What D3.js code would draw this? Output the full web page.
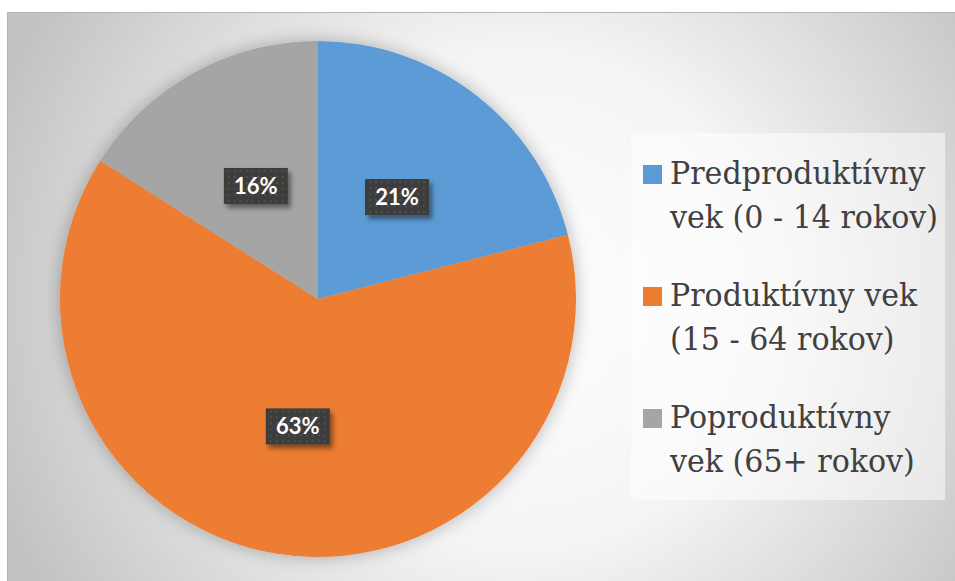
<!DOCTYPE html>
<html>
<head>
<meta charset="utf-8">
<script src="https://cdn.jsdelivr.net/npm/d3@7"></script>
<style>
  html, body { margin: 0; padding: 0; background: #ffffff; }
  svg { display: block; }
  .legend-text { font-family: "DejaVu Serif", serif; font-stretch: condensed; }
  .data-label { font-family: "Lato", "Open Sans", sans-serif; font-weight: 700; }
</style>
</head>
<body>
<svg id="chart" width="955" height="581"></svg>
<script>
// Age structure of the population
const categories = ["Predproduktívny vek (0 - 14 rokov)", "Produktívny vek (15 - 64 rokov)", "Poproduktívny vek (65+ rokov)"];
const legendLines = [["Predproduktívny", "vek (0 - 14 rokov)"], ["Produktívny vek", "(15 - 64 rokov)"], ["Poproduktívny", "vek (65+ rokov)"]];
const values = [21, 63, 16];
const colors = ["#5b9bd5", "#ed7d31", "#a5a5a5"];

const svg = d3.select("#chart");
const W = 955, H = 581;
const defs = svg.append("defs");

// chart area background: soft radial gradient
const bg = defs.append("radialGradient").attr("id", "bgGrad")
  .attr("gradientUnits", "userSpaceOnUse")
  .attr("cx", 520).attr("cy", 300).attr("r", 560);
bg.append("stop").attr("offset", "0%").attr("stop-color", "#ffffff");
bg.append("stop").attr("offset", "45%").attr("stop-color", "#f4f4f4");
bg.append("stop").attr("offset", "100%").attr("stop-color", "#c2c2c2");

// pie shadow
const ps = defs.append("filter").attr("id", "pieShadow")
  .attr("x", "-20%").attr("y", "-20%").attr("width", "140%").attr("height", "140%");
ps.append("feDropShadow").attr("dx", 0).attr("dy", 0).attr("stdDeviation", 9)
  .attr("flood-color", "#000").attr("flood-opacity", 0.28);

// data label shadow
const ls = defs.append("filter").attr("id", "lblShadow")
  .attr("x", "-30%").attr("y", "-30%").attr("width", "170%").attr("height", "190%");
ls.append("feDropShadow").attr("dx", 3).attr("dy", 4).attr("stdDeviation", 2.5)
  .attr("flood-color", "#000").attr("flood-opacity", 0.45);

// dotted dark fill for data labels
const pat = defs.append("pattern").attr("id", "dots")
  .attr("patternUnits", "userSpaceOnUse").attr("width", 6).attr("height", 6);
pat.append("rect").attr("width", 6).attr("height", 6).attr("fill", "#3d3d3d");
pat.append("rect").attr("x", 2).attr("y", 2).attr("width", 2).attr("height", 2).attr("fill", "#4f4f4f");

// chart area
svg.append("rect").attr("x", 7.5).attr("y", 12.5).attr("width", W).attr("height", H)
  .attr("fill", "url(#bgGrad)").attr("stroke", "#b5b5b5").attr("stroke-width", 1);

// pie
const cx = 318, cy = 299, R = 258;
const pie = d3.pie().sort(null).value(d => d)(values);
const arc = d3.arc().innerRadius(0).outerRadius(R);
const labelArc = d3.arc().innerRadius(R / 2).outerRadius(R / 2);

const g = svg.append("g").attr("transform", `translate(${cx},${cy})`);
g.append("g").attr("filter", "url(#pieShadow)")
  .selectAll("path").data(pie).join("path")
  .attr("d", arc)
  .attr("fill", (d, i) => colors[i]);

// data labels
const fmt = d3.format(".0%");
const total = d3.sum(values);
const lbl = g.append("g").selectAll("g").data(pie).join("g")
  .attr("transform", d => `translate(${labelArc.centroid(d)})`);
const bw = 64, bh = 36;
lbl.append("rect")
  .attr("x", -bw / 2).attr("y", -bh / 2).attr("width", bw).attr("height", bh)
  .attr("fill", "url(#dots)").attr("filter", "url(#lblShadow)");
lbl.append("text")
  .attr("class", "data-label")
  .attr("text-anchor", "middle").attr("dy", "0.36em")
  .attr("font-size", 22)
  .attr("fill", "#ffffff")
  .text(d => fmt(d.data / total));

// legend
const legend = svg.append("g");
legend.append("rect").attr("x", 631).attr("y", 133).attr("width", 314).attr("height", 367)
  .attr("fill", "#ffffff").attr("fill-opacity", 0.5);

const entry = legend.selectAll("g.entry").data(categories).join("g")
  .attr("class", "entry")
  .attr("transform", (d, i) => `translate(643,${184 + i * 122})`);
entry.append("rect").attr("x", 0).attr("y", -19).attr("width", 19).attr("height", 19)
  .attr("fill", (d, i) => colors[i]);
const texts = entry.append("text")
  .attr("class", "legend-text")
  .attr("font-size", 32).attr("fill", "#404040");
texts.selectAll("tspan").data((d, i) => legendLines[i]).join("tspan")
  .attr("x", 0).attr("y", (d, j) => j * 44)
  .text(d => d);

// fit the serif face so the widest legend line spans 268px
let widest = 0;
texts.selectAll("tspan").each(function () { widest = Math.max(widest, this.getComputedTextLength()); });
const sx = 268 / widest;
texts.attr("transform", `translate(27,0) scale(${sx},1)`);
</script>
</body>
</html>
